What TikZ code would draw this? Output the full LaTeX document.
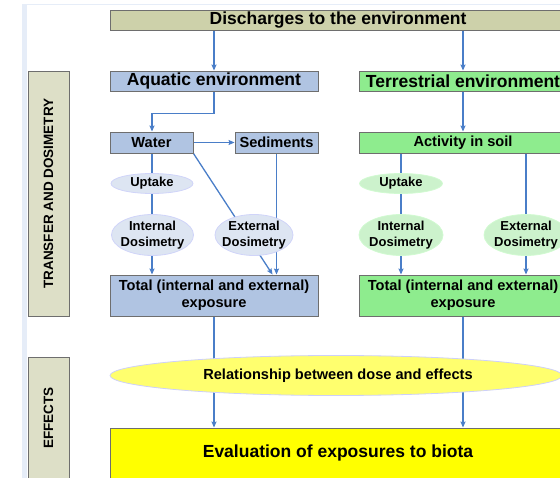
\documentclass[tikz,border=0pt]{standalone}
\usepackage{fontspec}
\setmainfont{Liberation Sans}
\usetikzlibrary{arrows.meta,shapes.geometric,backgrounds}

\definecolor{khaki}{RGB}{205,209,170}
\definecolor{sidekhaki}{RGB}{221,223,199}
\definecolor{aqblue}{RGB}{176,196,226}
\definecolor{aqlight}{RGB}{221,229,242}
\definecolor{terrgreen}{RGB}{142,236,142}
\definecolor{terrlight}{RGB}{204,242,204}
\definecolor{relyellow}{RGB}{255,255,110}
\definecolor{evyellow}{RGB}{255,255,0}
\definecolor{arrowblue}{RGB}{74,126,200}
\definecolor{boxgray}{RGB}{110,110,110}
\definecolor{framecol}{RGB}{230,237,248}

\newcommand{\fbig}{\fontsize{17.5}{20}\selectfont\bfseries}
\newcommand{\fmid}{\fontsize{14.6}{17}\selectfont\bfseries}
\newcommand{\fsmall}{\fontsize{13}{15.5}\selectfont\bfseries}
\newcommand{\fside}{\fontsize{13.5}{16}\selectfont\bfseries}

\begin{document}
\begin{tikzpicture}[x=1pt, y=-1pt,
  box/.style={rectangle, draw=boxgray, line width=0.9pt, inner sep=0pt},
  oval/.style={ellipse, draw, line width=0.8pt, inner sep=0pt},
  arr/.style={draw=arrowblue, line width=1.3pt, -{Stealth[length=6pt, width=5pt, inset=1pt]}}]

\useasboundingbox (0,0) rectangle (560,478);
\clip (0,0) rectangle (560,478);

% slide frame
\fill [framecol] (22,5) rectangle (27,478);
\draw [framecol, line width=1pt] (22,5) -- (560,5);

% side labels
\node (transfer) [box, fill=sidekhaki, minimum width=41pt, minimum height=245pt] at (48.5,193.5) {};
\node (transfertxt) [rotate=90, font=\fside] at (transfer) {TRANSFER AND DOSIMETRY};
\node (effects) [box, fill=sidekhaki, minimum width=41pt, minimum height=124pt] at (48.5,419) {};
\node (effectstxt) [rotate=90, font=\fside] at (48.5,418) {EFFECTS};

% top
\node (disch) [box, fill=khaki, minimum width=456pt, minimum height=20pt, font=\fbig] at (338,20) {Discharges to the environment};

% aquatic branch
\node (aquatic) [box, fill=aqblue, minimum width=208pt, minimum height=20pt, font=\fbig] at (214,81) {Aquatic environment};
\node (water) [box, fill=aqblue, minimum width=83pt, minimum height=21pt, font=\fmid] at (151.5,142.5) {Water};
\node (sedim) [box, fill=aqblue, minimum width=83pt, minimum height=21pt, font=\fmid] at (276.5,142.5) {Sediments};
\node (upA) [oval, draw=aqlight!80!blue!60, fill=aqlight, minimum width=82pt, minimum height=20pt] at (152,183.5) {};
\node (upAtxt) [font=\fsmall] at (upA) {Uptake};
\node (intA) [oval, draw=aqlight!80!blue!60, fill=aqlight, minimum width=82pt, minimum height=41pt] at (152.5,235) {};
\node (intAtxt) [align=center, font=\fsmall] at (intA) {Internal\\Dosimetry};
\node (extA) [oval, draw=aqlight!80!blue!60, fill=aqlight, minimum width=78pt, minimum height=41pt] at (254,235) {};
\node (extAtxt) [align=center, font=\fsmall] at (extA) {External\\Dosimetry};
\node (totA) [box, fill=aqblue, minimum width=208pt, minimum height=41pt, align=center, font=\fmid] at (214,295.5) {Total (internal and external)\\exposure};

% terrestrial branch
\node (terr) [box, fill=terrgreen, minimum width=208pt, minimum height=20pt, font=\fbig] at (463,81) {Terrestrial environment};
\node (soil) [box, fill=terrgreen, minimum width=208pt, minimum height=21pt, font=\fmid] at (463,142.5) {Activity in soil};
\node (upT) [oval, draw=terrlight!80!green!50, fill=terrlight, minimum width=83pt, minimum height=20pt] at (401,183.5) {};
\node (upTtxt) [font=\fsmall] at (upT) {Uptake};
\node (intT) [oval, draw=terrlight!80!green!50, fill=terrlight, minimum width=84pt, minimum height=41pt] at (401,235) {};
\node (intTtxt) [align=center, font=\fsmall] at (intT) {Internal\\Dosimetry};
\node (extT) [oval, draw=terrlight!80!green!50, fill=terrlight, minimum width=84pt, minimum height=41pt] at (526,235) {};
\node (extTtxt) [align=center, font=\fsmall] at (extT) {External\\Dosimetry};
\node (totT) [box, fill=terrgreen, minimum width=208pt, minimum height=41pt, align=center, font=\fmid] at (463,295.5) {Total (internal and external)\\exposure};

% effects
\node (rel) [oval, draw=aqlight!70!blue!50, fill=relyellow, minimum width=452pt, minimum height=40pt] at (336,375.5) {};
\node (reltxt) [font=\fmid] at (338,375.5) {Relationship between dose and effects};
\node (eval) [box, fill=evyellow, minimum width=456pt, minimum height=54pt] at (338,455) {};
\node (evaltxt) [font=\fbig] at (338,453) {Evaluation of exposures to biota};

% connectors
\begin{scope}[on background layer]
\draw [arr] (aquatic.north |- disch.south) -- (aquatic.north);
\draw [arr] (terr.north |- disch.south) -- (terr.north);
\draw [arr] (aquatic.south) -- ++(0,22) -| (upA.center |- water.north);
\draw [arr] (water.east) -- (sedim.west);
\draw [arr] (terr.south) -- (soil.north);

\draw [arr] (upA.center |- water.south) -- (upA.center |- totA.north);
\draw [arr] (water.south east) -- ([xshift=163pt]totA.north west);
\draw [arr] (sedim.south) -- (sedim.south |- totA.north);

\draw [arr] (upT.center |- soil.south) -- (upT.center |- totT.north);
\draw [arr] (extT.center |- soil.south) -- (extT.center |- totT.north);

\draw [arr] (totA.south) -- (totA.south |- eval.north);
\draw [arr] (totT.south) -- (totT.south |- eval.north);
\end{scope}

\end{tikzpicture}
\end{document}
